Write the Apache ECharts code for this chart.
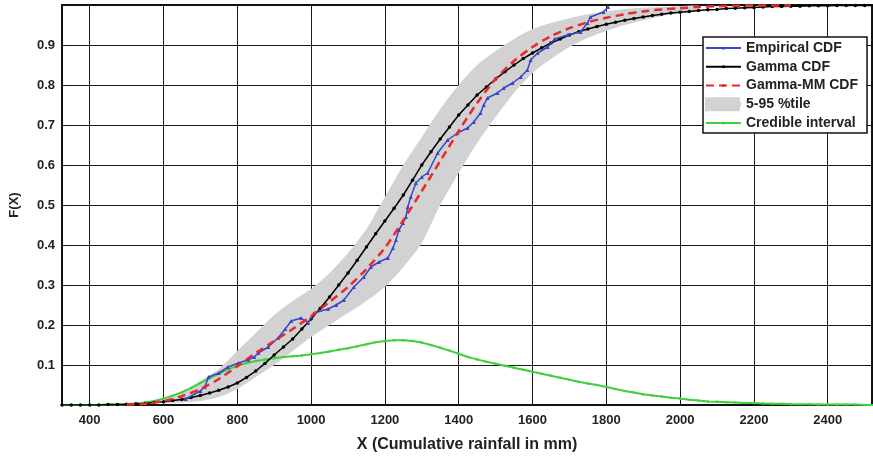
<!DOCTYPE html>
<html>
<head>
<meta charset="utf-8">
<script src="https://cdn.jsdelivr.net/npm/echarts@6/dist/echarts.min.js"></script>
<style>
html,body{margin:0;padding:0;background:#fff;}
#c{width:873px;height:458px;}
</style>
</head>
<body>
<div id="c"></div>
<script>
// ---------- data ----------
// common sample grid (mm) for the Gamma CDF and the credible-interval curve
const gridX = [
  325,350,375,400,425,450,475,500,525,550,575,600,625,650,675,700,725,750,775,800,
  825,850,875,900,925,950,975,1000,1025,1050,1075,1100,1125,1150,1175,1200,1225,1250,1275,1300,
  1325,1350,1375,1400,1425,1450,1475,1500,1525,1550,1575,1600,1625,1650,1675,1700,1725,1750,1775,1800,
  1825,1850,1875,1900,1925,1950,1975,2000,2025,2050,2075,2100,2125,2150,2175,2200,2225,2250,2275,2300,
  2325,2350,2375,2400,2425,2450,2475,2500,2525
];
const gammaCdf = [
  0,0,0,0,0,0.001,0.001,0.002,0.003,0.004,0.006,0.008,0.011,0.014,0.019,0.024,0.030,0.037,0.045,0.055,
  0.069,0.085,0.104,0.125,0.145,0.165,0.19,0.215,0.242,0.27,0.30,0.33,0.362,0.395,0.428,0.46,0.492,0.525,0.562,0.6,
  0.633,0.665,0.695,0.725,0.75,0.775,0.795,0.815,0.833,0.85,0.866,0.88,0.893,0.905,0.915,0.925,0.933,0.94,0.946,0.952,
  0.957,0.962,0.966,0.97,0.974,0.977,0.98,0.982,0.984,0.986,0.988,0.989,0.991,0.992,0.993,0.994,0.995,0.996,0.996,0.997,
  0.997,0.998,0.998,0.998,0.999,0.999,0.999,0.999,0.999
];
const credible = [
  0,0,0,0,0,0.001,0.001,0.002,0.004,0.006,0.01,0.016,0.023,0.032,0.043,0.055,0.067,0.078,0.089,0.098,
  0.105,0.11,0.114,0.117,0.12,0.122,0.124,0.127,0.13,0.134,0.138,0.142,0.147,0.152,0.157,0.16,0.162,0.162,0.16,0.156,
  0.15,0.143,0.136,0.128,0.12,0.114,0.108,0.103,0.098,0.093,0.088,0.083,0.078,0.073,0.068,0.063,0.058,0.054,0.05,0.045,
  0.04,0.035,0.031,0.027,0.024,0.021,0.018,0.016,0.013,0.011,0.009,0.008,0.007,0.006,0.005,0.005,0.004,0.003,0.003,0.002,
  0.002,0.002,0.001,0.001,0.001,0.001,0.001,0,0
];
// Gamma-MM CDF
const mmX = [500,550,600,650,700,750,800,850,900,950,1000,1050,1100,1150,1200,1250,1300,1350,1400,1450,
  1500,1550,1600,1650,1700,1750,1800,1850,1900,1950,2000,2050,2100,2150,2200,2250,2300];
const mmCdf = [0.001,0.003,0.01,0.022,0.04,0.065,0.097,0.13,0.16,0.19,0.222,0.258,0.295,0.34,0.393,0.462,0.535,0.61,0.685,0.755,
  0.815,0.86,0.895,0.922,0.942,0.957,0.968,0.977,0.984,0.989,0.992,0.995,0.997,0.998,0.999,0.999,0.999];
// 5-95 percentile band
const bandX = [600,650,700,750,800,850,900,950,1000,1050,1100,1150,1200,1250,1300,1350,1400,1450,1500,1550,
  1600,1650,1700,1750,1800,1850,1900,1950,2000,2050];
const bandLow = [0.004,0.006,0.01,0.02,0.04,0.07,0.10,0.135,0.17,0.20,0.23,0.26,0.295,0.345,0.405,0.50,0.58,0.655,0.72,0.78,
  0.83,0.865,0.895,0.918,0.935,0.95,0.962,0.972,0.98,0.986];
const bandHigh = [0.006,0.03,0.06,0.09,0.135,0.18,0.225,0.26,0.29,0.33,0.38,0.44,0.52,0.60,0.67,0.74,0.80,0.85,0.885,0.915,
  0.94,0.955,0.967,0.977,0.984,0.99,0.993,0.995,0.997,0.998];
// Empirical CDF
const empX = [660,700,712,722,750,775,803,830,846,857,884,911,930,946,973,992,1008,1046,1068,1089,
  1116,1143,1162,1184,1208,1222,1230,1238,1249,1257,1262,1270,1284,1300,1316,1343,1370,1397,1424,1441,
  1459,1468,1478,1505,1522,1546,1568,1586,1595,1614,1641,1660,1695,1730,1749,1757,1792,1805];
const empF = [0.015,0.035,0.045,0.07,0.08,0.095,0.105,0.113,0.12,0.13,0.145,0.168,0.19,0.21,0.2175,0.205,0.23,0.24,0.25,0.2625,
  0.295,0.32,0.345,0.3575,0.3675,0.3925,0.4125,0.4375,0.455,0.47,0.495,0.52,0.555,0.57,0.58,0.63,0.6625,0.68,0.6925,0.7075,
  0.73,0.75,0.7675,0.78,0.7925,0.805,0.82,0.8375,0.8625,0.88,0.895,0.915,0.925,0.9325,0.955,0.97,0.9825,0.995];

const legendNames = ['Empirical CDF','Gamma CDF','Gamma-MM CDF','5-95 %tile','Credible interval'];
const xTitle = 'X (Cumulative rainfall in mm)';
const yTitle = 'F(X)';

// ---------- build ----------
const zip = (xs, ys) => xs.map((x, i) => [x, ys[i]]);
const FONT = '"Liberation Sans", Arial, sans-serif';
const AX = '#111';
const TXT = '#222';
const GREY = '#d2d2d2';

const chart = echarts.init(document.getElementById('c'), null, {renderer: 'canvas'});

const baseX = {
  type: 'value', min: 325, max: 2520, splitNumber: 10,
  axisLine: {show: true, onZero: false, lineStyle: {color: AX, width: 2}},
  axisTick: {show: true, inside: true, length: 5, lineStyle: {color: AX, width: 1}},
};
const baseY = {
  type: 'value', min: 0, max: 1, interval: 0.1,
  axisLine: {show: true, onZero: false, lineStyle: {color: AX, width: 2}},
  axisTick: {show: true, inside: true, length: 5, lineStyle: {color: AX, width: 1}},
};

// band polygon: upper edge left->right, lower edge right->left, through the axes' scales
function renderBand(params, api) {
  if (params.dataIndex !== 0) return null;
  const pts = [];
  for (let i = 0; i < bandX.length; i++) pts.push(api.coord([bandX[i], bandHigh[i]]));
  for (let i = bandX.length - 1; i >= 0; i--) pts.push(api.coord([bandX[i], bandLow[i]]));
  return {
    type: 'polygon',
    shape: {points: pts, smooth: 0.25},
    style: {fill: GREY, stroke: null}
  };
}

chart.setOption({
  backgroundColor: '#fff',
  animation: false,
  textStyle: {fontFamily: FONT},
  grid: {left: 60, right: 1, top: 5, bottom: 53, containLabel: false},
  xAxis: [
    Object.assign({}, baseX, {
      position: 'bottom',
      name: xTitle, nameLocation: 'middle', nameGap: 32,
      nameTextStyle: {fontSize: 16, fontWeight: 'bold', color: TXT, fontFamily: FONT},
      axisLabel: {show: true, margin: 9, fontSize: 13, fontWeight: 'bold', color: TXT, fontFamily: FONT,
        showMinLabel: false, showMaxLabel: false, formatter: v => String(v)},
      splitLine: {show: true, lineStyle: {color: '#1a1a1a', width: 1}}
    }),
    Object.assign({}, baseX, {
      position: 'top', axisLabel: {show: false}, splitLine: {show: false}
    })
  ],
  yAxis: [
    Object.assign({}, baseY, {
      position: 'left',
      name: yTitle, nameLocation: 'middle', nameGap: 41, nameRotate: 90,
      nameTextStyle: {fontSize: 13, fontWeight: 'bold', color: TXT, fontFamily: FONT},
      axisLabel: {show: true, margin: 7, fontSize: 13, fontWeight: 'bold', color: TXT, fontFamily: FONT,
        showMinLabel: false, showMaxLabel: false,
        formatter: v => v.toFixed(1)},
      splitLine: {show: true, lineStyle: {color: '#1a1a1a', width: 1}}
    }),
    Object.assign({}, baseY, {
      position: 'right', axisLabel: {show: false}, splitLine: {show: false}
    })
  ],
  legend: [
    {
      orient: 'vertical', left: 703, top: 37,
      padding: [4, 9, 3, 2],
      itemWidth: 35, itemHeight: 4, itemGap: 4.75,
      backgroundColor: '#fff', borderColor: '#111', borderWidth: 1.5, borderRadius: 0,
      selectedMode: false,
      textStyle: {fontSize: 14, fontWeight: 'bold', color: TXT, fontFamily: FONT},
      data: legendNames.map(n => n === '5-95 %tile' ? {name: n, icon: 'rect'} : {name: n})
    },
    {
      orient: 'vertical', left: 705, top: 97.25, padding: 0,
      itemWidth: 35, itemHeight: 14, itemGap: 0,
      selectedMode: false, z: 10,
      formatter: () => '',
      textStyle: {fontSize: 14},
      data: [{name: '5-95 %tile', icon: 'rect'}]
    }
  ],
  series: [
    {
      name: '5-95 %tile', type: 'custom', renderItem: renderBand,
      data: bandX.map((x, i) => [x, bandLow[i], bandHigh[i]]),
      encode: {x: 0, y: [1, 2]},
      itemStyle: {color: GREY}, clip: true, silent: true, z: 1
    },
    {
      name: 'Credible interval', type: 'line', data: zip(gridX, credible),
      symbol: 'circle', symbolSize: 2.5, showAllSymbol: true,
      itemStyle: {color: '#3fcf3f'}, lineStyle: {color: '#3fcf3f', width: 2}, z: 3
    },
    {
      name: 'Gamma CDF', type: 'line', data: zip(gridX, gammaCdf),
      symbol: 'circle', symbolSize: 3.5, showAllSymbol: true,
      itemStyle: {color: '#000'}, lineStyle: {color: '#000', width: 1.5}, z: 4
    },
    {
      name: 'Empirical CDF', type: 'line', data: zip(empX, empF),
      symbol: 'triangle', symbolSize: 4, showAllSymbol: true,
      itemStyle: {color: '#3646c8'}, lineStyle: {color: '#3646c8', width: 1.5}, z: 5
    },
    {
      name: 'Gamma-MM CDF', type: 'line', data: zip(mmX, mmCdf),
      symbol: 'none', smooth: 0.3,
      itemStyle: {color: '#e82a2a'}, lineStyle: {color: '#e82a2a', width: 2.5, type: [8, 5]}, z: 6
    }
  ]
});
</script>
</body>
</html>
